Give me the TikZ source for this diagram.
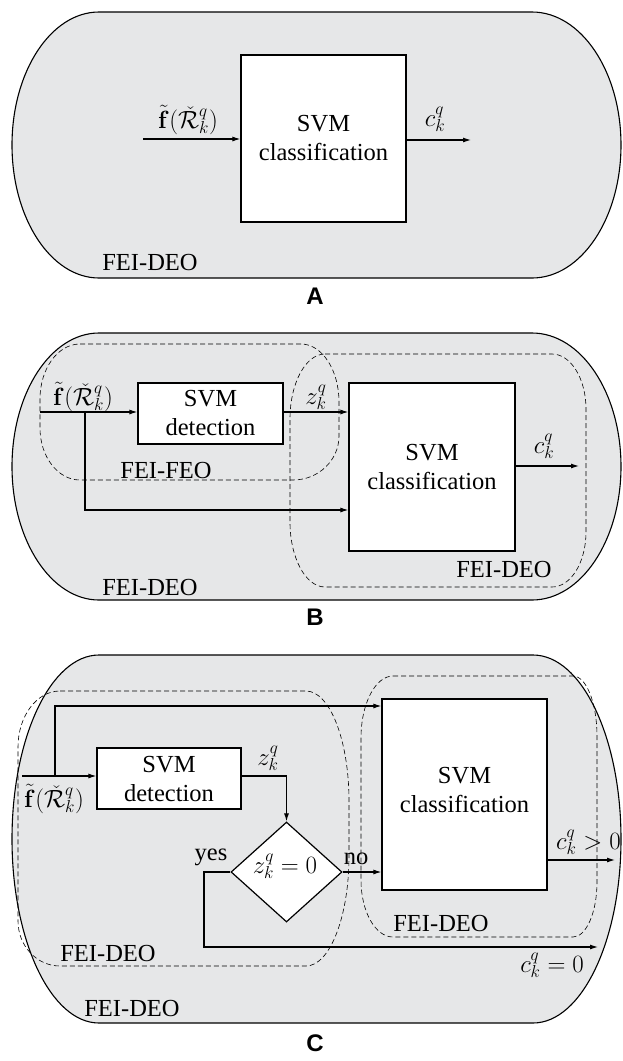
\documentclass[tikz,border=0pt]{standalone}
\usepackage[no-math]{fontspec}
\setmainfont{Liberation Serif}
\newfontfamily\labfont{Liberation Sans}
\usetikzlibrary{arrows.meta,shapes.geometric,calc}
\definecolor{panelgray}{RGB}{230,231,232}
\begin{document}
\begin{tikzpicture}[x=1pt,y=-1pt,
  every node/.style={font=\fontsize{24.5}{29}\selectfont, inner sep=0pt},
  box/.style={draw, line width=1.2pt, fill=white, align=center},
  arr/.style={line width=1.1pt, -{Latex[length=8pt,width=5pt]}},
  outer/.style={draw, line width=1.1pt, fill=panelgray},
  region/.style={draw, line width=0.6pt, dash pattern=on 5pt off 3pt},
  panellab/.style={font=\labfont\bfseries\fontsize{24}{28}\selectfont}]
\useasboundingbox (0,0) rectangle (622,1061);

% ---------------- Panel A ----------------
\draw[outer] (532,12) -- (99,12) arc[start angle=90,end angle=270,x radius=87pt,y radius=133pt]
  -- (532,278) arc[start angle=-90,end angle=90,x radius=89pt,y radius=133pt] -- cycle;
\node[box, minimum width=165pt, minimum height=167pt] (clsA) at (323.5,138.5) {SVM\\classification};
\coordinate (inA) at (143,139);
\coordinate (outA) at (471,140);
\draw[arr] (inA) -- (inA -| clsA.west);
\draw[arr] (clsA.east |- outA) -- (outA);
\node (fA) at (188,120) {$\tilde{\mathbf{f}}(\check{\mathcal{R}}_k^q)$};
\node (cA) at (435,119) {$c_k^q$};
\node (feiA) at (150,263) {FEI-DEO};
\node[panellab] (labA) at (315,296) {A};

% ---------------- Panel B ----------------
\draw[outer] (532,333) -- (99,333) arc[start angle=90,end angle=270,x radius=87pt,y radius=133.5pt]
  -- (532,600) arc[start angle=-90,end angle=90,x radius=89pt,y radius=133.5pt] -- cycle;
\draw[region] (80,344) -- (301,344) arc[start angle=90,end angle=0,x radius=38pt,y radius=58pt]
  -- (339,436) arc[start angle=0,end angle=-90,x radius=46pt,y radius=44pt]
  -- (80,480) arc[start angle=270,end angle=180,x radius=40pt,y radius=52pt]
  -- (40,399) arc[start angle=180,end angle=90,x radius=40pt,y radius=55pt] -- cycle;
\draw[region] (325,354) -- (552,354) arc[start angle=90,end angle=0,x radius=34pt,y radius=55pt]
  -- (586,532) arc[start angle=0,end angle=-90,x radius=34pt,y radius=55pt]
  -- (325,587) arc[start angle=270,end angle=180,x radius=35pt,y radius=65pt]
  -- (290,419) arc[start angle=180,end angle=90,x radius=35pt,y radius=65pt] -- cycle;
\node[box, minimum width=145pt, minimum height=61pt] (detB) at (210.5,413.5) {SVM\\detection};
\node[box, minimum width=166pt, minimum height=168pt] (clsB) at (432,467) {SVM\\classification};
\coordinate (inB) at (40,412);
\coordinate (brB) at (85,412);
\coordinate (lowB) at (85,510);
\coordinate (outB) at (579,466);
\draw[arr] (inB) -- (inB -| detB.west);
\draw[arr] (detB.east |- inB) -- (clsB.west |- inB);
\draw[arr] (brB) -- (lowB) -- (lowB -| clsB.west);
\draw[arr] (clsB.east |- outB) -- (outB);
\node (fB) at (83,397) {$\tilde{\mathbf{f}}(\check{\mathcal{R}}_k^q)$};
\node (zB) at (316,397) {$z_k^q$};
\node (cB) at (544,446) {$c_k^q$};
\node (feoB) at (166,470) {FEI-FEO};
\node (deoB1) at (504,569) {FEI-DEO};
\node (deoB2) at (150,587) {FEI-DEO};
\node[panellab] (labB) at (315,617) {B};

% ---------------- Panel C ----------------
\draw[outer] (533,655) -- (99,655) arc[start angle=90,end angle=270,x radius=87pt,y radius=184pt]
  -- (533,1023) arc[start angle=-90,end angle=90,x radius=88pt,y radius=184pt] -- cycle;
\draw[region] (60,691) -- (306,691) arc[start angle=90,end angle=0,x radius=43pt,y radius=110pt]
  -- (349,856) arc[start angle=0,end angle=-90,x radius=43pt,y radius=110pt]
  -- (60,966) arc[start angle=270,end angle=180,x radius=42pt,y radius=45pt]
  -- (18,747) arc[start angle=180,end angle=90,x radius=42pt,y radius=56pt] -- cycle;
\draw[region] (393,676) -- (573,676) arc[start angle=90,end angle=0,x radius=24pt,y radius=60pt]
  -- (597,882) arc[start angle=0,end angle=-90,x radius=24pt,y radius=55pt]
  -- (393,937) arc[start angle=270,end angle=180,x radius=32pt,y radius=57pt]
  -- (361,738) arc[start angle=180,end angle=90,x radius=32pt,y radius=62pt] -- cycle;
\node[box, minimum width=144pt, minimum height=61pt] (detC) at (169,778.5) {SVM\\detection};
\node[box, minimum width=165pt, minimum height=191pt] (clsC) at (464.5,794.5) {};
\node (clsCtxt) at (464.5,790) [align=center] {SVM\\classification};
\node[diamond, draw, line width=1.2pt, fill=white, minimum width=111pt, minimum height=100pt] (dia) at (286.5,872) {};
\node (diaTxt) at (285,866) {$z_k^q=0$};
\coordinate (inC) at (22,776);
\coordinate (brC) at (55,776);
\coordinate (topC) at (55,706);
\coordinate (yesC) at (204,947);
\coordinate (endC) at (598,947);
\coordinate (outC) at (615,860);
\draw[arr] (inC) -- (inC -| detC.west);
\draw[arr] (brC) -- (topC) -- (topC -| clsC.west);
\draw[arr] (detC.east |- inC) -| (dia.north);
\draw[arr] (dia.east) -- (dia.east -| clsC.west);
\draw[arr] (dia.west) -| (yesC) -- (endC);
\draw[arr] (clsC.east |- outC) -- (outC);
\node (fC) at (54,799) {$\tilde{\mathbf{f}}(\check{\mathcal{R}}_k^q)$};
\node (zC) at (268,758) {$z_k^q$};
\node (yesL) at (211,857) {yes};
\node (noL) at (356,859) {no};
\node[anchor=west] (cC1) at (556,842) {$c_k^q>0$};
\node (cC2) at (552,965) {$c_k^q=0$};
\node (deoC1) at (108,953) {FEI-DEO};
\node (deoC2) at (441,923) {FEI-DEO};
\node (deoC3) at (132,1008) {FEI-DEO};
\node[panellab] (labC) at (315,1043) {C};
\end{tikzpicture}
\end{document}
